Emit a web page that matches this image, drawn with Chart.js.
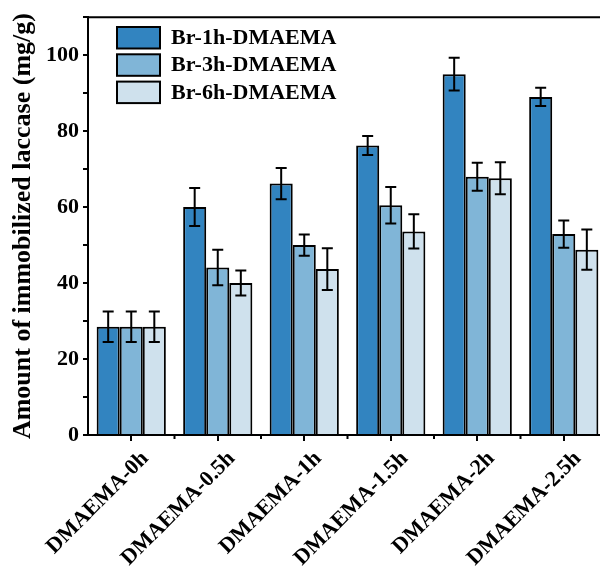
<!DOCTYPE html>
<html>
<head>
<meta charset="utf-8">
<script src="https://cdn.jsdelivr.net/npm/chart.js@4/dist/chart.umd.min.js"></script>
<style>
  html, body { margin: 0; padding: 0; background: #fff; overflow: hidden; }
  #wrap { width: 600px; height: 566px; overflow: hidden; }
</style>
</head>
<body>
<div id="wrap"><canvas id="c" width="612" height="566"></canvas></div>
<script>
const categories = ['DMAEMA-0h', 'DMAEMA-0.5h', 'DMAEMA-1h', 'DMAEMA-1.5h', 'DMAEMA-2h', 'DMAEMA-2.5h'];
const seriesNames = ['Br-1h-DMAEMA', 'Br-3h-DMAEMA', 'Br-6h-DMAEMA'];
const br1h = [28.5, 60.0, 66.2, 76.2, 95.0, 89.0];
const br3h = [28.5, 44.1, 50.0, 60.5, 68.0, 52.9];
const br6h = [28.5, 40.0, 43.7, 53.6, 67.6, 48.8];
const br1hErr = [4.0, 5.0, 4.1, 2.5, 4.3, 2.4];
const br3hErr = [4.0, 4.7, 2.8, 4.8, 3.7, 3.6];
const br6hErr = [4.0, 3.3, 5.5, 4.5, 4.2, 5.3];
const yTicks = [0, 20, 40, 60, 80, 100];

const colors = ['#3284c0', '#80b5d7', '#cfe1ed'];
const serif = '"Liberation Serif", "Times New Roman", serif';

const errorBars = {
  id: 'errorBars',
  afterDatasetsDraw(chart) {
    const ctx = chart.ctx;
    const y = chart.scales.y;
    ctx.save();
    ctx.strokeStyle = '#000';
    ctx.lineWidth = 2;
    chart.data.datasets.forEach((ds, di) => {
      const meta = chart.getDatasetMeta(di);
      meta.data.forEach((bar, i) => {
        const v = ds.data[i], e = ds.err[i];
        const x = bar.x, yt = y.getPixelForValue(v + e), yb = y.getPixelForValue(v - e);
        ctx.beginPath();
        ctx.moveTo(x, yt); ctx.lineTo(x, yb);
        ctx.moveTo(x - 5.5, yt); ctx.lineTo(x + 5.5, yt);
        ctx.moveTo(x - 5.5, yb); ctx.lineTo(x + 5.5, yb);
        ctx.stroke();
      });
    });
    ctx.restore();
  }
};

const frame = {
  id: 'frame',
  afterDraw(chart) {
    const ctx = chart.ctx, a = chart.chartArea, xs = chart.scales.x;
    ctx.save();
    ctx.strokeStyle = '#000';
    ctx.lineWidth = 2;
    ctx.beginPath();
    ctx.moveTo(a.left - 1, a.top); ctx.lineTo(a.right, a.top);
    // minor ticks between categories
    const w = xs.getPixelForTick(1) - xs.getPixelForTick(0);
    for (let i = 0; i < categories.length; i++) {
      const px = xs.getPixelForTick(i) + w / 2;
      ctx.moveTo(px, a.bottom); ctx.lineTo(px, a.bottom + 4);
    }
    ctx.stroke();
    // legend
    ctx.font = 'bold 22px ' + serif;
    ctx.textBaseline = 'middle';
    seriesNames.forEach((name, i) => {
      const top = 27 + i * 27.3;
      ctx.fillStyle = colors[i];
      ctx.fillRect(117, top, 43, 21.5);
      ctx.strokeRect(117, top, 43, 21.5);
      ctx.fillStyle = '#000';
      ctx.fillText(name, 171, top + 11.5);
    });
    ctx.restore();
  }
};

new Chart(document.getElementById('c'), {
  type: 'bar',
  data: {
    labels: categories,
    datasets: [
      { label: seriesNames[0], data: br1h, err: br1hErr, backgroundColor: colors[0] },
      { label: seriesNames[1], data: br3h, err: br3hErr, backgroundColor: colors[1] },
      { label: seriesNames[2], data: br6h, err: br6hErr, backgroundColor: colors[2] }
    ].map(d => Object.assign(d, { borderColor: '#000', borderWidth: 2, categoryPercentage: 0.8, barPercentage: 1.0 }))
  },
  options: {
    responsive: false,
    animation: false,
    devicePixelRatio: 1,
    layout: { padding: { left: 0, right: 5, top: 16, bottom: 0 } },
    plugins: { legend: { display: false }, tooltip: { enabled: false } },
    scales: {
      x: {
        grid: { offset: false, drawOnChartArea: false, drawTicks: true, tickLength: 6, color: '#000', lineWidth: 2 },
        border: { display: true, color: '#000', width: 2 },
        ticks: { color: '#000', font: { family: serif, size: 22, weight: 'bold' }, maxRotation: 45, minRotation: 45, padding: 5, labelOffset: 14, autoSkip: false },
        afterFit(s) { s.height = 131; }
      },
      y: {
        min: 0, max: 110,
        grid: { drawOnChartArea: false, drawTicks: true, tickLength: 5, color: '#000', lineWidth: 2 },
        border: { display: true, color: '#000', width: 2 },
        ticks: {
          stepSize: 10, color: '#000', padding: 4,
          font: { family: serif, size: 22, weight: 'bold' },
          callback: v => yTicks.includes(v) ? String(v) : ''
        },
        title: { display: true, text: 'Amount of immobilized laccase (mg/g)', color: '#000', font: { family: serif, size: 26, weight: 'bold' }, padding: { top: 8, bottom: 0 } },
        afterFit(s) { s.width = 88; }
      }
    }
  },
  plugins: [errorBars, frame]
});
</script>
</body>
</html>
